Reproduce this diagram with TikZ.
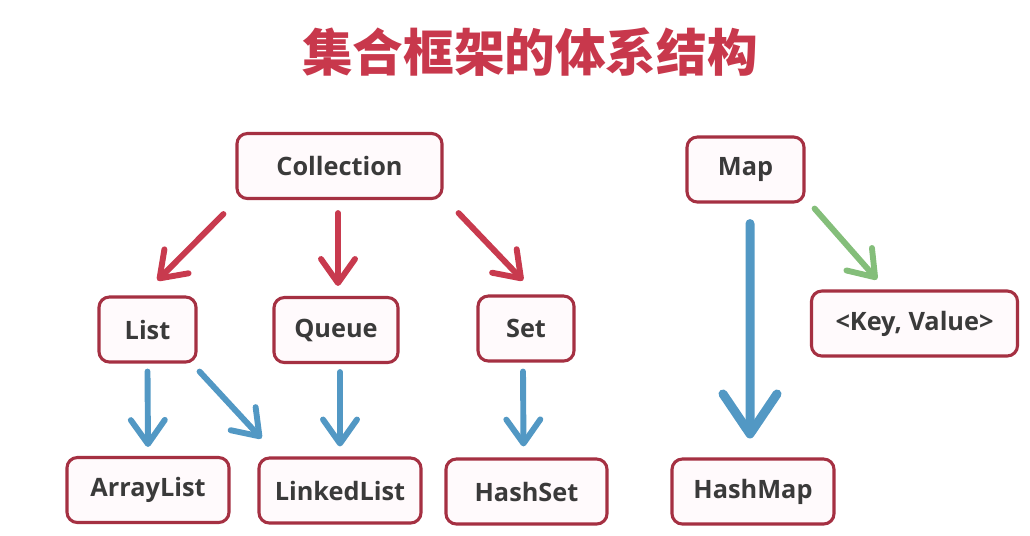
\documentclass[tikz,border=0pt]{standalone}
\usepackage{fontspec}
\usepackage{xcolor}
\usepackage{tikz}
\usetikzlibrary{arrows.meta,positioning}
\setmainfont{Open Sans}
\newfontfamily\cjk{Noto Sans CJK SC}
\definecolor{titlered}{RGB}{200,56,76}
\definecolor{boxred}{RGB}{165,48,66}
\definecolor{boxfill}{RGB}{255,250,252}
\definecolor{arrred}{RGB}{200,58,78}
\definecolor{arrblue}{RGB}{82,152,196}
\definecolor{arrgreen}{RGB}{132,190,122}
\definecolor{txtgray}{RGB}{58,58,58}

\begin{document}
\begin{tikzpicture}[
  x=0.025cm, y=-0.025cm,
  box/.style={draw=boxred, line width=2.2pt, rounded corners=2.6mm, fill=boxfill,
    align=center, minimum height=16.25mm, inner sep=0pt,
    font=\fontsize{18}{20}\selectfont\bfseries, text=txtgray},
  redarr/.style={-{Straight Barb[length=6mm, width=8.5mm, round]}, line width=4.2pt,
    line cap=round, draw=arrred},
  bluearr/.style={-{Straight Barb[length=6mm, width=8.5mm, round]}, line width=4.2pt,
    line cap=round, draw=arrblue},
  bigarr/.style={-{Straight Barb[length=10mm, width=13.5mm, round]}, line width=6.4pt,
    line cap=round, draw=arrblue},
  greenarr/.style={-{Straight Barb[length=6mm, width=8.5mm, round]}, line width=4.2pt,
    line cap=round, draw=arrgreen}
]
  \useasboundingbox (0,0) rectangle (1030,535);
  \node[text=titlered, font=\cjk\fontsize{36}{40}\selectfont\bfseries] (title) at (530,52) {集合框架的体系结构};

  % collection side
  \node[box, minimum width=51.25mm] (coll) at (339.5,166) {Collection};
  \node[box, minimum width=24.25mm] (list) at (147.5,329.5) {List};
  \node[box, minimum width=31mm] (queue) at (336,330) {Queue};
  \node[box, minimum width=24mm] (set) at (526,328.5) {Set};
  \node[box, minimum width=40.5mm] (alist) at (148,490) {ArrayList};
  \node[box, minimum width=40.5mm] (llist) at (340,490.5) {LinkedList};
  \node[box, minimum width=40.25mm] (hset) at (526.5,491.5) {HashSet};

  % map side
  \node[box, minimum width=29.25mm] (map) at (745.5,169.5) {Map};
  \node[box, minimum width=51.5mm] (kv) at (914.5,323.5) {<Key, Value>};
  \node[box, minimum width=40.5mm] (hmap) at (753,491.5) {HashMap};

  \draw[redarr] ([shift={(-12,14)}]coll.south west) -- ([shift={(10,-15)}]list.north);
  \draw[redarr] ([shift={(-1.5,13)}]coll.south) -- ([shift={(2,-10)}]queue.north);
  \draw[redarr] ([shift={(15,13)}]coll.south east) -- ([shift={(-3,-14)}]set.north);

  \draw[bluearr] ([shift={(0,8)}]list.south) -- ([shift={(0,-9)}]alist.north);
  \draw[bluearr] ([shift={(2,8)}]list.south east) -- ([shift={(4,-18)}]llist.north west);
  \draw[bluearr] ([shift={(4,8)}]queue.south) -- ([shift={(0,-10)}]llist.north);
  \draw[bluearr] ([shift={(-3,9)}]set.south) -- ([shift={(-3,-11)}]hset.north);

  \draw[bigarr] ([shift={(4.5,20)}]map.south) -- ([shift={(-3,-19)}]hmap.north);
  \draw[greenarr] ([shift={(9,5)}]map.south east) -- ([shift={(-37.5,-10)}]kv.north);
\end{tikzpicture}
\end{document}
